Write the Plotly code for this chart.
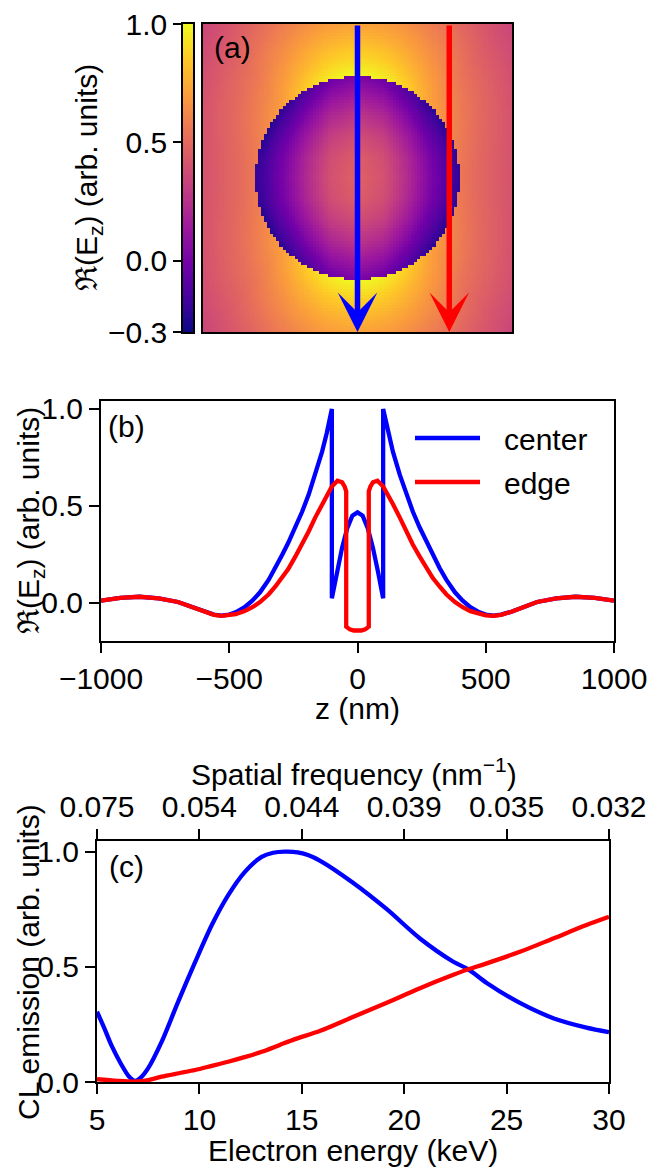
import numpy as np
import plotly.graph_objects as go

# ---------------- data ----------------
# (a) field map: samples of Re(Ez) around a 100 nm sphere
sphere_radius_nm = 100
map_half_nm = 150
map_step_nm = 3
axis_r_nm = [100, 120, 138, 165, 190, 216, 242]          # distance from centre along the beam axis
axis_field = [1.0, 0.875, 0.78, 0.66, 0.56, 0.47, 0.39]
cos2_samples = [0.0, 0.5, 1.0]                           # cos^2 of polar angle from beam axis
angular_weight = [0.56, 0.72, 1.0]
inner_x_nm = [0, 25, 50, 75, 90, 100]                    # inside sphere, across the beam
inner_row = [0.467, 0.40, 0.22, 0.0, -0.144, -0.2]
inner_z_nm = [0, 20, 40, 60, 80, 100]                    # inside sphere, along the beam
inner_col = [0.467, 0.45, 0.385, 0.285, 0.16, 0.024]
trajectory_x_nm = {"center": 0, "edge": 90}
colorbar_ticks = [-0.3, 0.0, 0.5, 1.0]
colorbar_ticktext = ["\u22120.3", "0.0", "0.5", "1.0"]

# (b) Re(Ez) along the two trajectories
z_center = [-1000, -925, -850, -775, -700, -650, -600, -560, -530, -500, -475, -440, -410, -380,
            -346, -320, -293, -270, -242, -216, -190, -165, -138, -120, -110, -100, -100, -80,
            -60, -40, -20, 0, 20, 40, 60, 80, 100, 100, 110, 120, 138, 165, 190, 216, 242, 270,
            293, 320, 346, 380, 410, 440, 475, 500, 530, 560, 600, 650, 700, 775, 850, 925, 1000]
re_ez_center = [0.012, 0.026, 0.032, 0.024, 0.005, -0.018, -0.045, -0.060, -0.065, -0.060, -0.048,
                -0.022, 0.012, 0.055, 0.12, 0.18, 0.25, 0.31, 0.39, 0.47, 0.56, 0.66, 0.78, 0.875,
                0.935, 1.0, 0.024, 0.16, 0.285, 0.385, 0.45, 0.467, 0.45, 0.385, 0.285, 0.16, 0.024,
                1.0, 0.935, 0.875, 0.78, 0.66, 0.56, 0.47, 0.39, 0.31, 0.25, 0.18, 0.12, 0.055,
                0.012, -0.022, -0.048, -0.060, -0.065, -0.060, -0.045, -0.018, 0.005, 0.024, 0.032,
                0.026, 0.012]
z_edge = [-1000, -925, -850, -775, -700, -650, -600, -560, -530, -500, -475, -440, -410, -380,
          -346, -320, -293, -270, -242, -216, -190, -165, -138, -120, -100, -78, -60, -50, -44,
          -44, -40, -30, -15, 0, 15, 30, 40, 44, 44, 50, 60, 78, 100, 120, 138, 165, 190, 216,
          242, 270, 293, 320, 346, 380, 410, 440, 475, 500, 530, 560, 600, 650, 700, 775, 850,
          925, 1000]
re_ez_edge = [0.012, 0.026, 0.032, 0.024, 0.005, -0.018, -0.045, -0.061, -0.066, -0.064, -0.058,
              -0.042, -0.022, 0.005, 0.045, 0.085, 0.13, 0.175, 0.24, 0.30, 0.37, 0.44, 0.51, 0.555,
              0.60, 0.63, 0.622, 0.60, 0.575, -0.122, -0.128, -0.136, -0.142, -0.144, -0.142,
              -0.136, -0.128, -0.122, 0.575, 0.60, 0.622, 0.63, 0.60, 0.555, 0.51, 0.44, 0.37, 0.30,
              0.24, 0.175, 0.13, 0.085, 0.045, 0.005, -0.022, -0.042, -0.058, -0.064, -0.066,
              -0.061, -0.045, -0.018, 0.005, 0.024, 0.032, 0.026, 0.012]

# (c) CL emission versus electron energy
energy_center_keV = [5.0, 5.35, 5.7, 6.2, 6.55, 6.86, 7.15, 7.5, 8.16, 8.97, 9.79, 10.6, 11.4, 12.2,
                     13.04, 13.6, 14.18, 14.8, 15.3, 15.9, 17.5, 19.15, 20.77, 22.4, 23.13, 24.03,
                     25.65, 27.28, 28.9, 30.0]
cl_center = [0.305, 0.235, 0.16, 0.074, 0.025, 0.005, 0.02, 0.06, 0.175, 0.35, 0.52, 0.68, 0.81,
             0.91, 0.977, 0.995, 1.0, 0.997, 0.985, 0.96, 0.865, 0.75, 0.623, 0.522, 0.489, 0.43,
             0.343, 0.277, 0.236, 0.216]
energy_edge_keV = [5.0, 6.0, 6.86, 7.5, 8.16, 9.0, 9.79, 10.6, 11.4, 12.2, 13.04, 13.9, 14.67, 15.9,
                   17.52, 19.15, 20.77, 22.4, 23.13, 24.03, 25.65, 27.28, 28.9, 30.0]
cl_edge = [0.012, 0.005, 0.002, 0.008, 0.023, 0.038, 0.052, 0.07, 0.088, 0.108, 0.131, 0.16, 0.186,
           0.222, 0.283, 0.344, 0.407, 0.465, 0.489, 0.515, 0.565, 0.623, 0.681, 0.717]
energy_ticks = [5, 10, 15, 20, 25, 30]
spatial_freq_labels = ["0.075", "0.054", "0.044", "0.039", "0.035", "0.032"]
z_ticks = [-1000, -500, 0, 500, 1000]
z_ticktext = ["\u22121000", "\u2212500", "0", "500", "1000"]

# ---------------- figure geometry (pixels) ----------------
W, H = 651, 1167
FONT = "Liberation Sans, Arial, Helvetica, sans-serif"
FS = 30
BLUE, RED = "#0000ff", "#ff0000"


def px(x):
    return x / W


def py(y):
    return 1 - y / H


# ---------------- field map ----------------
grid = np.arange(-map_half_nm, map_half_nm + map_step_nm / 2, map_step_nm)
GX, GZ = np.meshgrid(grid, grid)
R = np.hypot(GX, GZ)
cos2 = np.where(R > 0, GZ ** 2 / np.maximum(R, 1e-9) ** 2, 1.0)
outside = np.interp(R, axis_r_nm, axis_field) * np.interp(cos2, cos2_samples, angular_weight)
inside = (np.interp(np.abs(GX), inner_x_nm, inner_row)
          + np.interp(np.abs(GZ), inner_z_nm, inner_col) - inner_col[0])
field = np.clip(np.where(R <= sphere_radius_nm, inside, outside), -0.3, 1.0)

fig = go.Figure()
fig.add_trace(go.Heatmap(x=grid, y=grid, z=field, colorscale="Plasma", zmin=-0.3, zmax=1.0,
                         showscale=False, hoverinfo="skip", xaxis="x", yaxis="y"))

cb_levels = np.linspace(-0.3, 1.0, 261)
fig.add_trace(go.Heatmap(x=[0], y=cb_levels, z=cb_levels.reshape(-1, 1), colorscale="Plasma",
                         zmin=-0.3, zmax=1.0, showscale=False, hoverinfo="skip",
                         xaxis="x5", yaxis="y5"))

# ---------------- line profiles ----------------
fig.add_trace(go.Scatter(x=z_center, y=re_ez_center, mode="lines", name="center",
                         line=dict(color=BLUE, width=4.3), xaxis="x2", yaxis="y2", showlegend=False))
fig.add_trace(go.Scatter(x=z_edge, y=re_ez_edge, mode="lines", name="edge",
                         line=dict(color=RED, width=4.3), xaxis="x2", yaxis="y2", showlegend=False))

# ---------------- CL emission ----------------
fig.add_trace(go.Scatter(x=energy_center_keV, y=cl_center, mode="lines", name="center",
                         line=dict(color=BLUE, width=4.3, shape="spline", smoothing=0.8),
                         xaxis="x3", yaxis="y3", showlegend=False))
fig.add_trace(go.Scatter(x=energy_edge_keV, y=cl_edge, mode="lines", name="edge",
                         line=dict(color=RED, width=4.3, shape="spline", smoothing=0.8),
                         xaxis="x3", yaxis="y3", showlegend=False))
# the spatial-frequency axis shares the energy scale; an empty trace keeps it drawn
fig.add_trace(go.Scatter(x=[energy_ticks[0], energy_ticks[-1]], y=[None, None], mode="lines",
                         xaxis="x4", yaxis="y3", showlegend=False, hoverinfo="skip"))

tickfont = dict(family=FONT, size=FS, color="black")
base = dict(showline=True, linecolor="black", linewidth=2, mirror=True, showgrid=False,
            zeroline=False, ticks="outside", ticklen=10, tickwidth=2, tickcolor="black",
            tickfont=tickfont, automargin=False)

layout = dict(
    width=W, height=H, margin=dict(l=0, r=0, t=0, b=0),
    paper_bgcolor="white", plot_bgcolor="white", template="none", showlegend=False,
    font=dict(family=FONT, size=FS, color="black"),
    # map
    xaxis=dict(base, domain=[px(203), px(512)], range=[-151.5, 151.5], ticks="",
               showticklabels=False, anchor="y"),
    yaxis=dict(base, domain=[py(332), py(24)], range=[151.5, -151.5], ticks="",
               showticklabels=False, anchor="x"),
    # colour strip
    xaxis5=dict(base, domain=[px(183), px(193)], range=[-0.5, 0.5], ticks="",
                showticklabels=False, anchor="y5", linewidth=1.5),
    yaxis5=dict(base, domain=[py(332), py(24)], range=[-0.3, 1.0], anchor="x5", side="left",
                tickvals=colorbar_ticks, ticktext=colorbar_ticktext, ticklen=8, linewidth=1.5),
    # profiles
    xaxis2=dict(base, domain=[px(101), px(614)], range=[-1000, 1000], anchor="y2",
                tickvals=z_ticks, ticktext=z_ticktext),
    yaxis2=dict(base, domain=[py(641), py(401)], range=[-0.196, 1.041], anchor="x2",
                tickvals=[0, 0.5, 1.0], ticktext=["0.0", "0.5", "1.0"]),
    # CL
    xaxis3=dict(base, domain=[px(97), px(609)], range=[5, 30], anchor="y3",
                tickvals=energy_ticks, ticktext=[str(t) for t in energy_ticks]),
    yaxis3=dict(base, domain=[py(1082), py(841)], range=[0, 1.046], anchor="x3",
                tickvals=[0, 0.5, 1.0], ticktext=["0.0", "0.5", "1.0"]),
    xaxis4=dict(base, domain=[px(97), px(609)], range=[5, 30], anchor="y3", overlaying="x3",
                side="top", tickvals=energy_ticks, ticktext=spatial_freq_labels),
)
fig.update_layout(**layout)

# electron trajectories drawn over the map
for key, col in (("center", BLUE), ("edge", RED)):
    xt = trajectory_x_nm[key]
    fig.add_annotation(x=xt, y=151.5, ax=xt, ay=-151.5, xref="x", yref="y", axref="x", ayref="y",
                       text="", showarrow=True, arrowhead=3, arrowsize=1.2, arrowwidth=5.5,
                       arrowcolor=col, standoff=0)


def label(text, x, y, angle=0, xanchor="center"):
    fig.add_annotation(text=text, x=px(x), y=py(y), xref="paper", yref="paper", showarrow=False,
                       xanchor=xanchor, yanchor="middle", textangle=angle,
                       font=dict(family=FONT, size=FS, color="black"))


re_label = "\u211c(E<sub>z</sub>) (arb. units)"
label(re_label, 88, 178, angle=-90)
label(re_label, 31, 521, angle=-90)
label("CL emission (arb. units)", 28, 962, angle=-90)
label("z (nm)", 357, 708)
label("Spatial frequency (nm<sup>\u22121</sup>)", 354, 772)
label("Electron energy (keV)", 353, 1150)
label("(a)", 212, 48, xanchor="left")
label("(b)", 106, 426, xanchor="left")
label("(c)", 107, 866, xanchor="left")

# legend for panel (b)
for text, col, yy in (("center", BLUE, 438), ("edge", RED, 482)):
    fig.add_shape(type="line", xref="paper", yref="paper", x0=px(415), x1=px(480), y0=py(yy),
                  y1=py(yy), line=dict(color=col, width=4.3))
    label(text, 502, yy + 1, xanchor="left")

fig.write_html("out.html")
